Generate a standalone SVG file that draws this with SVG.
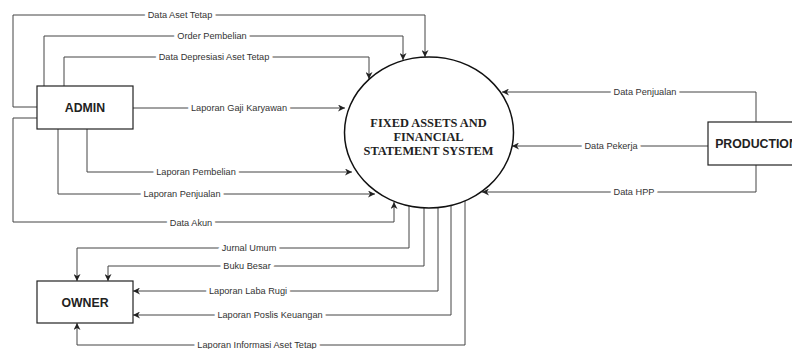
<svg xmlns="http://www.w3.org/2000/svg" width="792" height="349" viewBox="0 0 792 349">
<defs>
<marker id="arr" viewBox="0 0 10 10" refX="10" refY="5" markerWidth="7" markerHeight="7" markerUnits="userSpaceOnUse" orient="auto">
<path d="M0,0 L10,5 L0,10 L3,5 Z" fill="#222"/>
</marker>
<style>
.box{fill:#fff;stroke:#222;stroke-width:1.2}
.ent{font-family:"Liberation Sans",Arial,sans-serif;font-weight:bold;font-size:12.3px;fill:#222;text-anchor:middle}
.proc{font-family:"Liberation Serif","Times New Roman",serif;font-weight:bold;font-size:12.4px;fill:#222;text-anchor:middle}
.ln{fill:none;stroke:#444;stroke-width:1;marker-end:url(#arr)}
.lbl{font-family:"Liberation Sans",Arial,sans-serif;font-size:9.2px;fill:#333;text-anchor:middle;stroke:#fff;stroke-width:7;paint-order:stroke;stroke-linejoin:round}
</style>
</defs>
<rect width="792" height="349" fill="#fff"/>
<g id="connectors">
<path class="ln" d="M37,107 H13 V15 H425 V57"/>
<path class="ln" d="M44,86 V36 H403 V60"/>
<path class="ln" d="M64,86 V57 H369 V79"/>
<path class="ln" d="M133,108 H345"/>
<path class="ln" d="M87,129 V172 H352"/>
<path class="ln" d="M58,129 V194 H375"/>
<path class="ln" d="M37,118 H13 V222 H394 V202"/>
<path class="ln" d="M756,122 V92 H502"/>
<path class="ln" d="M708,146 H512"/>
<path class="ln" d="M756,165 V192 H482"/>
<path class="ln" d="M409,206 V248 H77 V281"/>
<path class="ln" d="M424,208 V266 H108 V281"/>
<path class="ln" d="M438,207 V291 H133"/>
<path class="ln" d="M451,205 V315 H133"/>
<path class="ln" d="M465,201 V345 H77 V323"/>
<text class="lbl" x="180" y="18.3">Data Aset Tetap</text>
<text class="lbl" x="212" y="39.3">Order Pembelian</text>
<text class="lbl" x="214" y="60.3">Data Depresiasi Aset Tetap</text>
<text class="lbl" x="239" y="111.3">Laporan Gaji Karyawan</text>
<text class="lbl" x="196" y="175.3">Laporan Pembelian</text>
<text class="lbl" x="182" y="197.3">Laporan Penjualan</text>
<text class="lbl" x="191" y="226">Data Akun</text>
<text class="lbl" x="645" y="95.3">Data Penjualan</text>
<text class="lbl" x="611" y="149.3">Data Pekerja</text>
<text class="lbl" x="634" y="195.3">Data HPP</text>
<text class="lbl" x="249" y="251.3">Jurnal Umum</text>
<text class="lbl" x="247" y="269.3">Buku Besar</text>
<text class="lbl" x="248" y="294.3">Laporan Laba Rugi</text>
<text class="lbl" x="270" y="318.3">Laporan Poslis Keuangan</text>
<text class="lbl" x="257" y="348">Laporan Informasi Aset Tetap</text>
</g>
<g id="system">
<ellipse cx="429" cy="132.5" rx="84.5" ry="75.5" fill="#fff" stroke="#111" stroke-width="1.5"/>
<text class="proc" x="428.5" y="127">FIXED ASSETS AND</text>
<text class="proc" x="428.5" y="141">FINANCIAL</text>
<text class="proc" x="428.5" y="155">STATEMENT SYSTEM</text>
</g>
<g id="admin">
<rect class="box" x="37" y="86" width="96" height="43"/>
<text class="ent" x="85" y="112">ADMIN</text>
</g>
<g id="owner">
<rect class="box" x="37" y="281" width="96" height="42"/>
<text class="ent" x="85" y="306.5">OWNER</text>
</g>
<g id="production">
<rect class="box" x="708" y="122" width="97" height="43"/>
<text class="ent" x="756.5" y="148">PRODUCTION</text>
</g>
</svg>
